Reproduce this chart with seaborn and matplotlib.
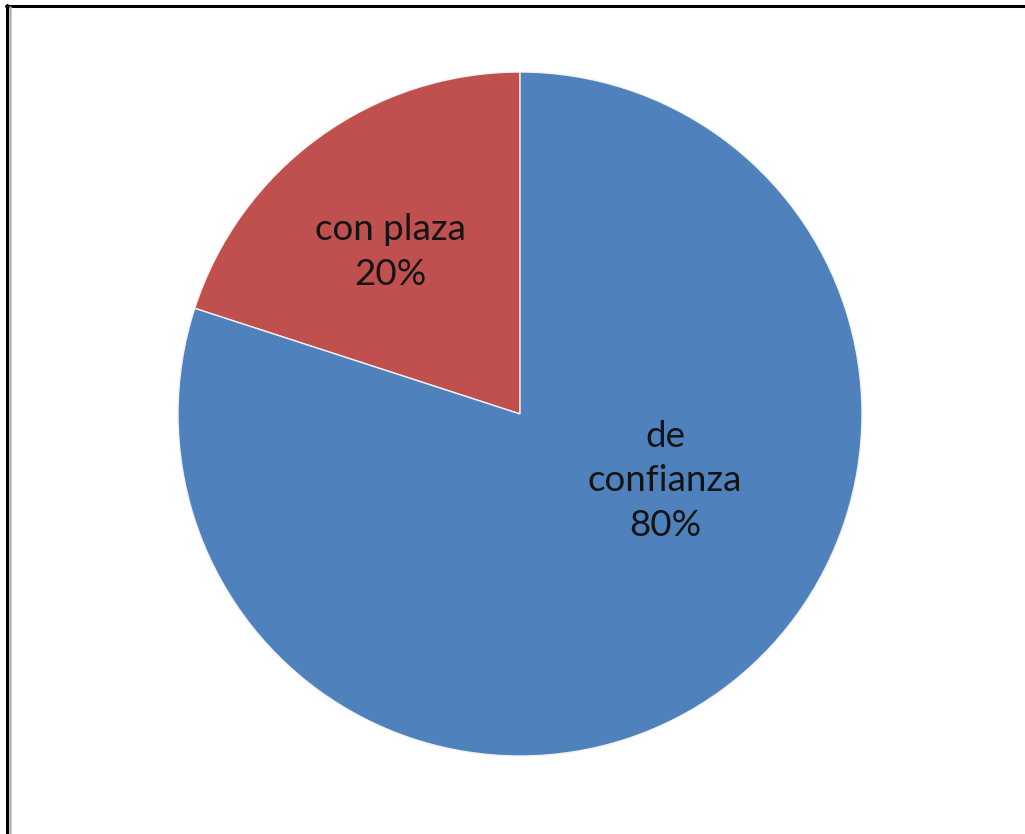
import matplotlib
matplotlib.use("Agg")
import matplotlib.pyplot as plt
from matplotlib.lines import Line2D
import seaborn as sns

categories = ["con plaza", "de confianza"]
shares = [20, 80]
label_lines = ["con plaza", "de\nconfianza"]
colors = ["#C0504D", "#4F81BD"]

sns.set_theme(style="white")
plt.rcParams["font.family"] = ["Lato", "DejaVu Sans"]

W, H = 1025, 834
fig = plt.figure(figsize=(W / 100, H / 100), dpi=100)
fig.patch.set_facecolor("white")

cx, cy, r = 520, 414, 342
ax = fig.add_axes([(cx - r) / W, (H - cy - r) / H, 2 * r / W, 2 * r / H])
wedges, _ = ax.pie(
    shares,
    colors=colors,
    startangle=90,
    counterclock=True,
    radius=1,
    wedgeprops=dict(edgecolor="#f2f2f2", linewidth=1.0),
)
ax.set_xlim(-1, 1)
ax.set_ylim(-1, 1)
ax.axis("off")

# label positions inside each slice
label_pos = [(-0.38, 0.474), (0.424, -0.195)]
for txt, val, (x, y) in zip(label_lines, shares, label_pos):
    ax.text(x, y, f"{txt}\n{val}%", ha="center", va="center",
            fontsize=26.5, color="#141414", linespacing=1.42)

# frame lines along the top and left edges
fig.add_artist(Line2D([6 / W, 1], [1 - 5.8 / H, 1 - 5.8 / H],
                      transform=fig.transFigure, color="black", linewidth=2.2))
fig.add_artist(Line2D([7.2 / W, 7.2 / W], [0, 1 - 5 / H],
                      transform=fig.transFigure, color="black", linewidth=2.2))
fig.add_artist(Line2D([10.3 / W, 10.3 / W], [0, 1 - 7 / H],
                      transform=fig.transFigure, color="#b4b4b4", linewidth=1.8))

fig.savefig("out.png", dpi=100)
